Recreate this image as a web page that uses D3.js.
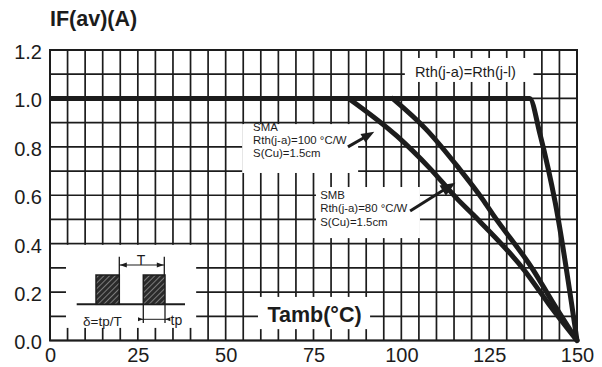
<!DOCTYPE html>
<html>
<head>
<meta charset="utf-8">
<script src="https://cdn.jsdelivr.net/npm/d3@7/dist/d3.min.js"></script>
<style>
  html, body { margin: 0; padding: 0; background: #fff; }
  svg { display: block; font-family: "Liberation Sans", Arial, Helvetica, sans-serif; }
</style>
</head>
<body>
<svg id="chart" width="602" height="367"></svg>
<script>
// Average forward current vs ambient temperature (derating curves)
const tempTicks = [0, 25, 50, 75, 100, 125, 150];
const currentTicks = [0.0, 0.2, 0.4, 0.6, 0.8, 1.0, 1.2];

// Rth(j-a) = Rth(j-l): flat at 1 A, then steep derating
const rthT  = [0, 136.5, 139.5, 141.8, 143.8, 150];
const rthIF = [1.0, 1.0, 0.85, 0.71, 0.57, 0.0];

// SMA, Rth(j-a) = 100 °C/W
const smaT  = [85, 98.7, 108.2, 115.9, 120.4, 135, 142, 150];
const smaIF = [1.0, 0.845, 0.71, 0.585, 0.52, 0.29, 0.15, 0.0];

// SMB, Rth(j-a) = 80 °C/W
const smbT  = [97.5, 107.2, 116.2, 123.3, 126.1, 137.6, 142.8, 150];
const smbIF = [1.0, 0.87, 0.715, 0.58, 0.52, 0.29, 0.165, 0.0];

const ink = "#1c1c1c";
const svg = d3.select("#chart");

const x = d3.scaleLinear().domain([0, 150]).range([50, 577]);
const y = d3.scaleLinear().domain([0, 1.2]).range([340.5, 50]);

// grid: 5 °C columns, 0.1 A rows
const grid = svg.append("g").attr("stroke", ink).attr("stroke-width", 1.7);
grid.selectAll("line.v").data(d3.range(0, 151, 5)).join("line")
  .attr("x1", d => x(d)).attr("x2", d => x(d))
  .attr("y1", y(0)).attr("y2", y(1.2));
grid.selectAll("line.h").data(d3.range(0, 13).map(i => i / 10)).join("line")
  .attr("x1", x(0)).attr("x2", x(150))
  .attr("y1", d => y(d)).attr("y2", d => y(d));
grid.append("rect")
  .attr("x", x(0)).attr("y", y(1.2))
  .attr("width", x(150) - x(0)).attr("height", y(0) - y(1.2))
  .attr("fill", "none").attr("stroke-width", 2);

// axes
const xAxis = svg.append("g").attr("transform", `translate(0,${y(0)})`)
  .call(d3.axisBottom(x).tickValues(tempTicks).tickSize(0).tickPadding(7));
const yAxis = svg.append("g").attr("transform", `translate(${x(0)},0)`)
  .call(d3.axisLeft(y).tickValues(currentTicks).tickFormat(d3.format(".1f")).tickSize(0).tickPadding(8));
[xAxis, yAxis].forEach(a => {
  a.select(".domain").remove();
  a.selectAll("text").attr("font-size", 20).attr("fill", ink)
    .attr("font-family", "Liberation Sans, Arial, sans-serif");
});
yAxis.selectAll("text").attr("dy", "0.42em");

svg.append("text").attr("x", 50).attr("y", 26)
  .attr("font-size", 21.5).attr("font-weight", "bold").attr("fill", ink)
  .text("IF(av)(A)");

// white label panels that interrupt the grid
function panel(t0, t1, v0, v1) {
  svg.append("rect")
    .attr("x", x(t0)).attr("y", y(v1))
    .attr("width", x(t1) - x(t0)).attr("height", y(v0) - y(v1))
    .attr("fill", "#fff");
}
panel(101, 137.6, 1.068, 1.167);   // Rth(j-a)=Rth(j-l)
panel(54.7, 87.7, 0.692, 0.894);   // SMA
panel(75.7, 105.3, 0.423, 0.634);  // SMB
panel(59.2, 91.1, 0.047, 0.18);    // axis title
panel(4.55, 41.6, 0.052, 0.395);   // pulse inset

// curves
const line = d3.line().x(d => x(d[0])).y(d => y(d[1])).curve(d3.curveMonotoneX);
const curves = svg.append("g").attr("fill", "none").attr("stroke", ink)
  .attr("stroke-width", 5).attr("stroke-linejoin", "round");
curves.append("path").attr("d", line(rthT.map((t, i) => [t, rthIF[i]])));
curves.append("path").attr("stroke-linecap", "round")
  .attr("d", line(smaT.map((t, i) => [t, smaIF[i]])));
curves.append("path").attr("stroke-linecap", "round")
  .attr("d", line(smbT.map((t, i) => [t, smbIF[i]])));

// labels
function label(lines, t, v, size, step) {
  const g = svg.append("text").attr("font-size", size).attr("fill", ink);
  lines.forEach((s, i) => g.append("tspan").attr("x", x(t)).attr("y", y(v) + i * step).text(s));
}
label(["Rth(j-a)=Rth(j-l)"], 103.9, 1.088, 14.6, 0);
label(["SMA", "Rth(j-a)=100 \u00B0C/W", "S(Cu)=1.5cm"], 57.8, 0.865, 11.4, 13);
label(["SMB", "Rth(j-a)=80 \u00B0C/W", "S(Cu)=1.5cm"], 76.9, 0.585, 11.4, 13.5);

svg.append("text").attr("x", x(75.3)).attr("y", 322)
  .attr("text-anchor", "middle").attr("font-size", 21.5).attr("font-weight", "bold")
  .attr("fill", ink).text("Tamb(\u00B0C)");

// arrow: shaft plus filled head at (x2,y2)
function arrow(x1, y1, x2, y2, len, wid, sw) {
  const dx = x2 - x1, dy = y2 - y1, L = Math.hypot(dx, dy);
  const ux = dx / L, uy = dy / L, nx = -uy, ny = ux;
  const bx = x2 - ux * len, by = y2 - uy * len;
  svg.append("line").attr("x1", x1).attr("y1", y1).attr("x2", bx + ux).attr("y2", by + uy)
    .attr("stroke", ink).attr("stroke-width", sw);
  svg.append("path").attr("fill", ink)
    .attr("d", `M${x2},${y2}L${bx + nx * wid / 2},${by + ny * wid / 2}L${bx - nx * wid / 2},${by - ny * wid / 2}Z`);
}
arrow(x(84.8), y(0.8), x(92.3), y(0.862), 13, 10, 3);
arrow(x(102.5), y(0.535), x(115.4), y(0.652), 15, 12, 3);

// pulse train inset
const pat = svg.append("defs").append("pattern").attr("id", "hatch")
  .attr("patternUnits", "userSpaceOnUse").attr("width", 4).attr("height", 4)
  .attr("patternTransform", "rotate(45)");
pat.append("rect").attr("width", 4).attr("height", 4).attr("fill", "#2a2a2a");
pat.append("line").attr("x1", 0).attr("y1", 0).attr("x2", 0).attr("y2", 4)
  .attr("stroke", "#ddd").attr("stroke-width", 0.9);

const ins = svg.append("g").attr("stroke", ink).attr("fill", "none");
const baseY = 304.3, topY = 275;
ins.append("line").attr("x1", 76.7).attr("x2", 185).attr("y1", baseY).attr("y2", baseY).attr("stroke-width", 2);
[[96, 119.3], [143.3, 165]].forEach(p => {
  ins.append("rect").attr("x", p[0]).attr("y", topY).attr("width", p[1] - p[0]).attr("height", baseY - topY)
    .attr("fill", "url(#hatch)").attr("stroke-width", 1.5);
});
// period T dimension
ins.append("line").attr("x1", 119.3).attr("x2", 119.3).attr("y1", 256.7).attr("y2", topY).attr("stroke-width", 1.3);
ins.append("line").attr("x1", 164.3).attr("x2", 164.3).attr("y1", 256.7).attr("y2", topY).attr("stroke-width", 1.3);
ins.append("line").attr("x1", 119.3).attr("x2", 164.3).attr("y1", 265).attr("y2", 265).attr("stroke-width", 1.2);
const head = (tx, ty, dir, l, w) =>
  svg.append("path").attr("fill", ink).attr("d", `M${tx},${ty}L${tx - dir * l},${ty - w / 2}L${tx - dir * l},${ty + w / 2}Z`);
head(119.8, 265, -1, 7, 5);
head(163.8, 265, 1, 7, 5);
svg.append("text").attr("x", 141).attr("y", 264.5).attr("text-anchor", "middle")
  .attr("font-size", 14).attr("fill", ink).text("T");
// pulse width tp dimension
ins.append("line").attr("x1", 143.3).attr("x2", 143.3).attr("y1", baseY).attr("y2", 323).attr("stroke-width", 1.3);
ins.append("line").attr("x1", 165).attr("x2", 165).attr("y1", baseY).attr("y2", 323).attr("stroke-width", 1.3);
ins.append("line").attr("x1", 138).attr("x2", 170).attr("y1", 319.3).attr("y2", 319.3).attr("stroke-width", 1);
head(143, 319.3, 1, 5, 4);
head(165.3, 319.3, -1, 5, 4);
svg.append("text").attr("x", 170.5).attr("y", 325).attr("font-size", 14).attr("fill", ink).text("tp");
svg.append("text").attr("x", 83).attr("y", 326).attr("font-size", 13.5).attr("fill", ink).text("\u03B4=tp/T");
</script>
</body>
</html>
